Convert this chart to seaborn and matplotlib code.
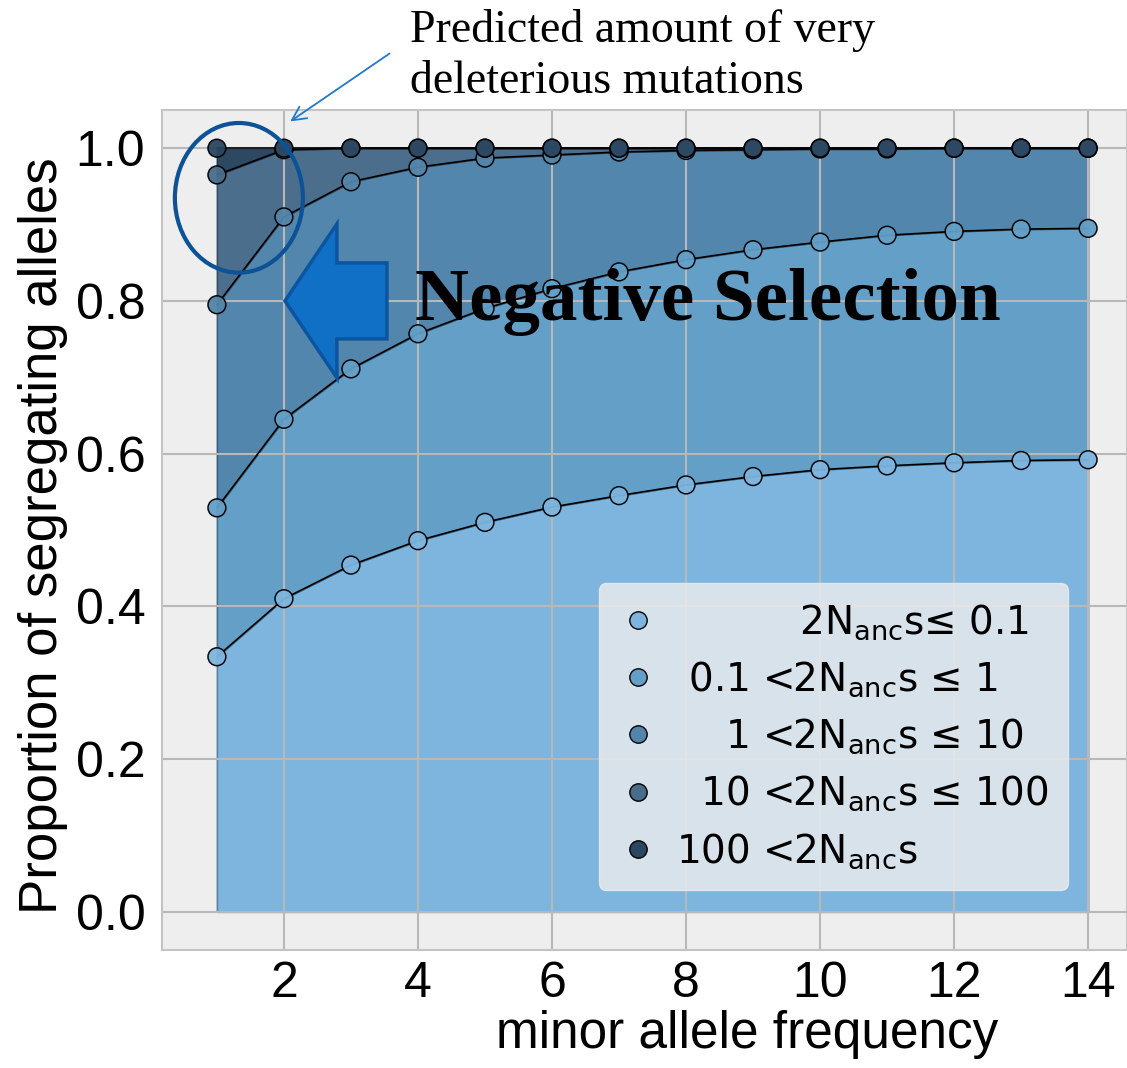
import matplotlib
matplotlib.use("Agg")
import matplotlib.pyplot as plt
from matplotlib.lines import Line2D
from matplotlib.patches import Ellipse, FancyArrow
import seaborn as sns
import pandas as pd
import numpy as np

# ---------------- data (cumulative proportions) ----------------
mac = list(range(1, 15))
c1 = [0.334, 0.410, 0.454, 0.486, 0.510, 0.530, 0.545, 0.559, 0.570, 0.579, 0.584, 0.588, 0.591, 0.592]
c2 = [0.529, 0.645, 0.711, 0.757, 0.790, 0.816, 0.838, 0.854, 0.867, 0.877, 0.886, 0.891, 0.894, 0.895]
c3 = [0.795, 0.910, 0.956, 0.975, 0.987, 0.991, 0.995, 0.997, 0.998, 0.999, 0.999, 1.0, 1.0, 1.0]
c4 = [0.965, 0.998, 1.0, 1.0, 1.0, 1.0, 1.0, 1.0, 1.0, 1.0, 1.0, 1.0, 1.0, 1.0]
c5 = [1.0] * 14

classes = ["s<=0.1", "0.1<s<=1", "1<s<=10", "10<s<=100", "100<s"]
legend_labels = [
    "          2N$_{\\mathrm{anc}}$s≤ 0.1",
    " 0.1 <2N$_{\\mathrm{anc}}$s ≤ 1",
    "    1 <2N$_{\\mathrm{anc}}$s ≤ 10",
    "  10 <2N$_{\\mathrm{anc}}$s ≤ 100",
    "100 <2N$_{\\mathrm{anc}}$s",
]
xticks = [2, 4, 6, 8, 10, 12, 14]
yticks = [0.0, 0.2, 0.4, 0.6, 0.8, 1.0]

fill_colors = ["#7eb5df", "#639fc7", "#5386ac", "#4b6e8c", "#2d4961"]
marker_colors = ["#7eb5df", "#639fc7", "#5385aa", "#486c8a", "#2b4660"]

# ---------------- style ----------------
sns.set_style("whitegrid", {"axes.facecolor": "#eeeeee", "grid.color": "#b8b8b8",
                            "axes.edgecolor": "#c4c4c4", "text.color": "black",
                            "axes.labelcolor": "black", "xtick.color": "black",
                            "ytick.color": "black"})
plt.rcParams["font.family"] = ["Liberation Sans", "DejaVu Sans"]
plt.rcParams["mathtext.fontset"] = "dejavusans"
plt.rcParams["text.color"] = "black"

fig = plt.figure(figsize=(11.27, 10.68), dpi=100)
ax = fig.add_axes([0.1437, 0.1105, 0.8563, 0.7865])
ax.set_facecolor("#eeeeee")

bounds = [c1, c2, c3, c4, c5]
lower = [0.0] * len(mac)
for i, b in enumerate(bounds):
    fc = np.array(matplotlib.colors.to_rgb(fill_colors[i]))
    ax.fill_between(mac, lower, b, facecolor=fc, edgecolor=fc * 0.72,
                    linewidth=1.2, zorder=1)
    lower = b

for b in bounds:
    sns.lineplot(x=mac, y=b, color="black", linewidth=1.2, zorder=2, ax=ax,
                 legend=False)

df = pd.DataFrame({
    "mac": mac * 5,
    "value": c1 + c2 + c3 + c4 + c5,
    "cls": sum([[c] * len(mac) for c in classes], []),
})
sns.scatterplot(data=df, x="mac", y="value", hue="cls", hue_order=classes,
                palette=marker_colors, s=165, edgecolor="black", linewidth=1.1,
                alpha=0.95, zorder=3, ax=ax, legend=False)

ax.set_xlim(0.18, 14.58)
ax.set_ylim(-0.05, 1.05)
ax.set_xticks(xticks)
ax.set_yticks(yticks)
ax.set_yticklabels([f"{v:.1f}" for v in yticks])
ax.grid(True, color="#b8b8b8", linewidth=1.5)
ax.set_axisbelow("line")
ax.tick_params(axis="y", direction="in", length=7, width=1.2, color="black",
               labelcolor="black", labelsize=36, pad=12)
ax.tick_params(axis="x", direction="out", length=7, width=1.2, color="black",
               labelcolor="black", labelsize=36, pad=1)
for sp in ax.spines.values():
    sp.set_color("#c4c4c4")
    sp.set_linewidth(1.5)

ax.set_ylabel("Proportion of segregating alleles", fontsize=38, color="black")
ax.set_xlabel("minor allele frequency", fontsize=37, color="black")
ax.yaxis.set_label_coords(-0.097, 0.493)
ax.xaxis.set_label_coords(0.606, -0.072)
ax.xaxis.label.set_va("top")

handles = [Line2D([], [], linestyle="none", marker="o", markersize=12.5,
                  markerfacecolor=c, markeredgecolor="black", markeredgewidth=1.0)
           for c in marker_colors]
leg = ax.legend(handles, legend_labels, loc="lower right",
                bbox_to_anchor=(0.939, 0.0714), borderaxespad=0.0,
                frameon=True, fancybox=True,
                framealpha=0.8, facecolor="#eeeeee", edgecolor="#eeeeee",
                prop={"family": "DejaVu Sans", "size": 28}, handlelength=1.0,
                handletextpad=0.5, labelspacing=0.45, borderpad=0.5)
for t in leg.get_texts():
    t.set_color("black")
leg.set_zorder(5)

# ---------------- annotations ----------------
serif = ["Liberation Serif", "DejaVu Serif"]
ax.add_patch(Ellipse((1.328, 0.935), 1.91, 0.196, fill=False,
                     edgecolor="#0c5296", linewidth=3, zorder=6, clip_on=False))
ax.add_patch(FancyArrow(3.537, 0.800, -1.522, 0.0, width=0.0995,
                        head_width=0.2017, head_length=0.776,
                        length_includes_head=True, facecolor="#1070c6",
                        edgecolor="#0b55a0", linewidth=2.5, zorder=6))
ax.text(3.955, 0.775, "Negative Selection", fontsize=54, fontweight="bold",
        family=serif, va="baseline", ha="left", color="black", zorder=7)
ax.text(3.88, 1.139, "Predicted amount of very", fontsize=33, color="black",
        family=serif, va="baseline", ha="left", clip_on=False)
ax.text(3.88, 1.072, "deleterious mutations", fontsize=33, color="black",
        family=serif, va="baseline", ha="left", clip_on=False)
ax.annotate("", xy=(2.06, 1.033), xytext=(3.61, 1.126),
            arrowprops=dict(arrowstyle="->", color="#1f78d1", lw=1.3,
                            mutation_scale=25),
            annotation_clip=False)

fig.savefig("out.png", dpi=100)
